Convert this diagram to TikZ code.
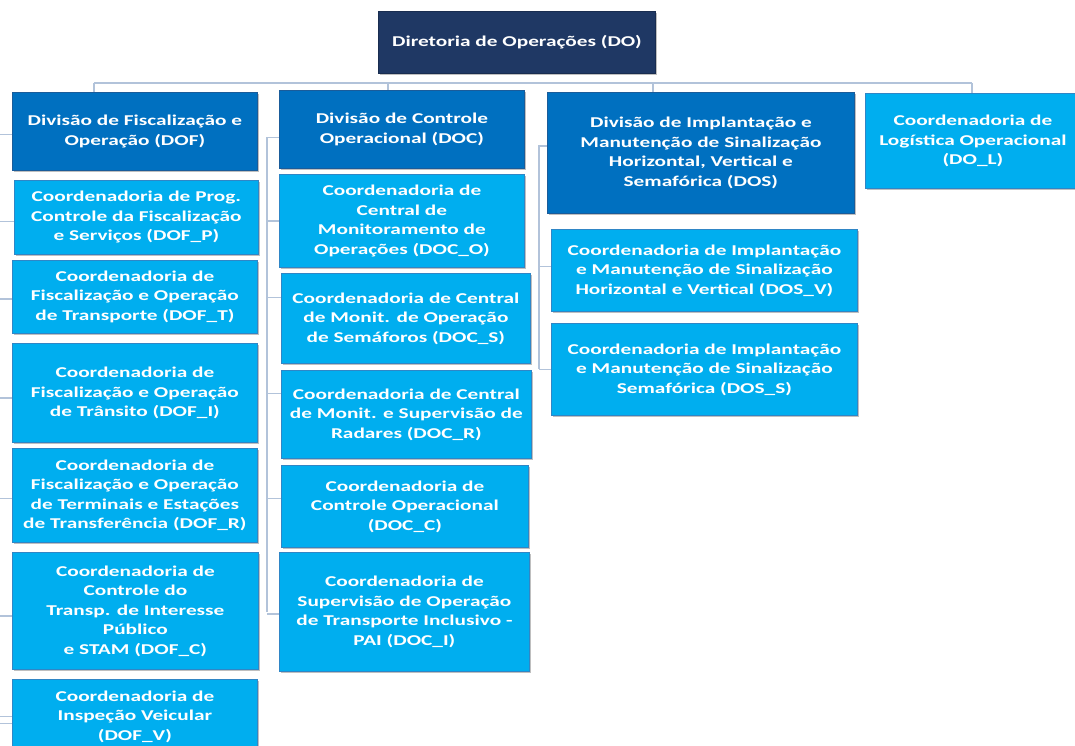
\documentclass[tikz,border=0pt]{standalone}
\usepackage{fontspec}
\setmainfont{Carlito}[FakeStretch=1.42]
\usetikzlibrary{shadows}
\definecolor{navy}{HTML}{1F3864}
\definecolor{divblue}{HTML}{0070C0}
\definecolor{coordblue}{HTML}{00AEEF}
\definecolor{rimdark}{HTML}{1A5C9A}
\definecolor{rimlight}{HTML}{2F86C6}
\definecolor{conncol}{HTML}{B2C3DA}
\tikzset{
  base/.style={rectangle, inner sep=0pt, align=center, text=white,
    font=\fontsize{15}{19.5}\selectfont\bfseries,
    drop shadow={shadow xshift=1.2pt, shadow yshift=-1.2pt, opacity=0.25, fill=black}},
  dirbox/.style={base, fill=navy, draw=navy!80!black, line width=0.8pt},
  divbox/.style={base, fill=divblue, draw=rimdark, line width=0.8pt},
  coordbox/.style={base, fill=coordblue, draw=rimlight, line width=0.8pt},
  conn/.style={draw=conncol, line width=1.3pt}
}
\newcommand{\orgbox}[7]{%
  \node[#1, anchor=north west, minimum width={(#5-#3)*1pt}, minimum height={(#6-#4)*1pt}] (#2) at (#3,#4) {#7};}
% stub from a box's west side (shifted by #2 pt upward) to spine coordinate #3
\newcommand{\stub}[3]{%
  \coordinate (tmpP) at ([yshift=#2pt]#1.west);
  \draw[conn] (tmpP) -- (tmpP -| #3);}
\begin{document}
\begin{tikzpicture}[x=1pt,y=-1pt]
\useasboundingbox (0,0) rectangle (1075,745);
\clip (0,0) rectangle (1075,745);
\fill[white] (0,0) rectangle (1075,745);

\coordinate (bL) at (94,83);
\coordinate (bC) at (388,83);
\coordinate (bS) at (653,83);
\coordinate (bR) at (972,83);
\coordinate (sF) at (-4,0);
\coordinate (sC) at (267,0);
\coordinate (sS) at (539,0);

% top
\orgbox{dirbox}{DO}{378}{11}{655}{73}{Diretoria de Operações (DO)}

% divisions
\orgbox{divbox}{DOF}{12}{92}{257}{170}{Divisão de Fiscalização e\\Operação (DOF)}
\orgbox{divbox}{DOC}{279}{90}{524}{168}{Divisão de Controle\\Operacional (DOC)}
\orgbox{divbox}{DOS}{547}{92}{854}{213}{Divisão de Implantação e\\Manutenção de Sinalização\\Horizontal, Vertical e\\Semafórica (DOS)}
\orgbox{coordbox}{DOL}{865}{93}{1080}{188}{Coordenadoria de\\Logística Operacional\\(DO\_L)}

% DOF column
\orgbox{coordbox}{DOFP}{14}{180}{258}{254}{Coordenadoria de Prog.\\Controle da Fiscalização\\e Serviços (DOF\_P)}
\orgbox{coordbox}{DOFT}{12}{260}{257}{333}{Coordenadoria de\\Fiscalização e Operação\\de Transporte (DOF\_T)}
\orgbox{coordbox}{DOFI}{12}{343}{257}{442}{Coordenadoria de\\Fiscalização e Operação\\de Trânsito (DOF\_I)}
\orgbox{coordbox}{DOFR}{12}{448}{257}{542}{Coordenadoria de\\Fiscalização e Operação\\de Terminais e Estações\\de Transferência (DOF\_R)}
\orgbox{coordbox}{DOFC}{12}{552}{258}{669}{Coordenadoria de\\Controle do\\Transp. de Interesse\\Público\\e STAM (DOF\_C)}
\orgbox{coordbox}{DOFV}{12}{679}{257}{753}{Coordenadoria de\\Inspeção Veicular\\(DOF\_V)}

% DOC column
\orgbox{coordbox}{DOCO}{279}{174}{524}{267}{Coordenadoria de\\Central de\\Monitoramento de\\Operações (DOC\_O)}
\orgbox{coordbox}{DOCS}{281}{273}{530}{363}{Coordenadoria de Central\\de Monit. de Operação\\de Semáforos (DOC\_S)}
\orgbox{coordbox}{DOCR}{281}{370}{531}{458}{Coordenadoria de Central\\de Monit. e Supervisão de\\Radares (DOC\_R)}
\orgbox{coordbox}{DOCC}{281}{465}{528}{547}{Coordenadoria de\\Controle Operacional\\(DOC\_C)}
\orgbox{coordbox}{DOCI}{279}{552}{529}{671}{Coordenadoria de\\Supervisão de Operação\\de Transporte Inclusivo -\\PAI (DOC\_I)}

% DOS column
\orgbox{coordbox}{DOSV}{551}{229}{857}{311}{Coordenadoria de Implantação\\e Manutenção de Sinalização\\Horizontal e Vertical (DOS\_V)}
\orgbox{coordbox}{DOSS}{551}{323}{857}{415}{Coordenadoria de Implantação\\e Manutenção de Sinalização\\Semafórica (DOS\_S)}

% bus to divisions
\draw[conn] (bL) -- (bR);
\draw[conn] (bL) -- (bL |- DOF.north);
\draw[conn] (bC) -- (bC |- DOC.north);
\draw[conn] (bS) -- (bS |- DOS.north);
\draw[conn] (bR) -- (bR |- DOL.north);

% DOF hanging (spine just outside the left edge)
\draw[conn] ([yshift=-3pt]DOF.west) -- ++(-16,0) |- (DOFV.west);
\stub{DOFP}{-4}{sF}
\stub{DOFT}{-2}{sF}
\stub{DOFI}{-5}{sF}
\stub{DOFR}{-3}{sF}
\stub{DOFC}{-5}{sF}
\stub{DOFV}{-7}{sF}

% DOC hanging
\coordinate (dc) at ([yshift=-8pt]DOC.west);
\draw[conn] (dc) -- (dc -| sC) -- (sC |- DOCI.west);
\stub{DOCO}{0}{sC}
\stub{DOCS}{21}{sC}
\stub{DOCR}{21}{sC}
\stub{DOCC}{8}{sC}
\stub{DOCI}{-2}{sC}

% DOS hanging
\coordinate (ds) at ([yshift=7pt]DOS.west);
\draw[conn] (ds) -- (ds -| sS) -- (sS |- DOSS.west);
\stub{DOSV}{4}{sS}
\stub{DOSS}{0}{sS}
\end{tikzpicture}
\end{document}
